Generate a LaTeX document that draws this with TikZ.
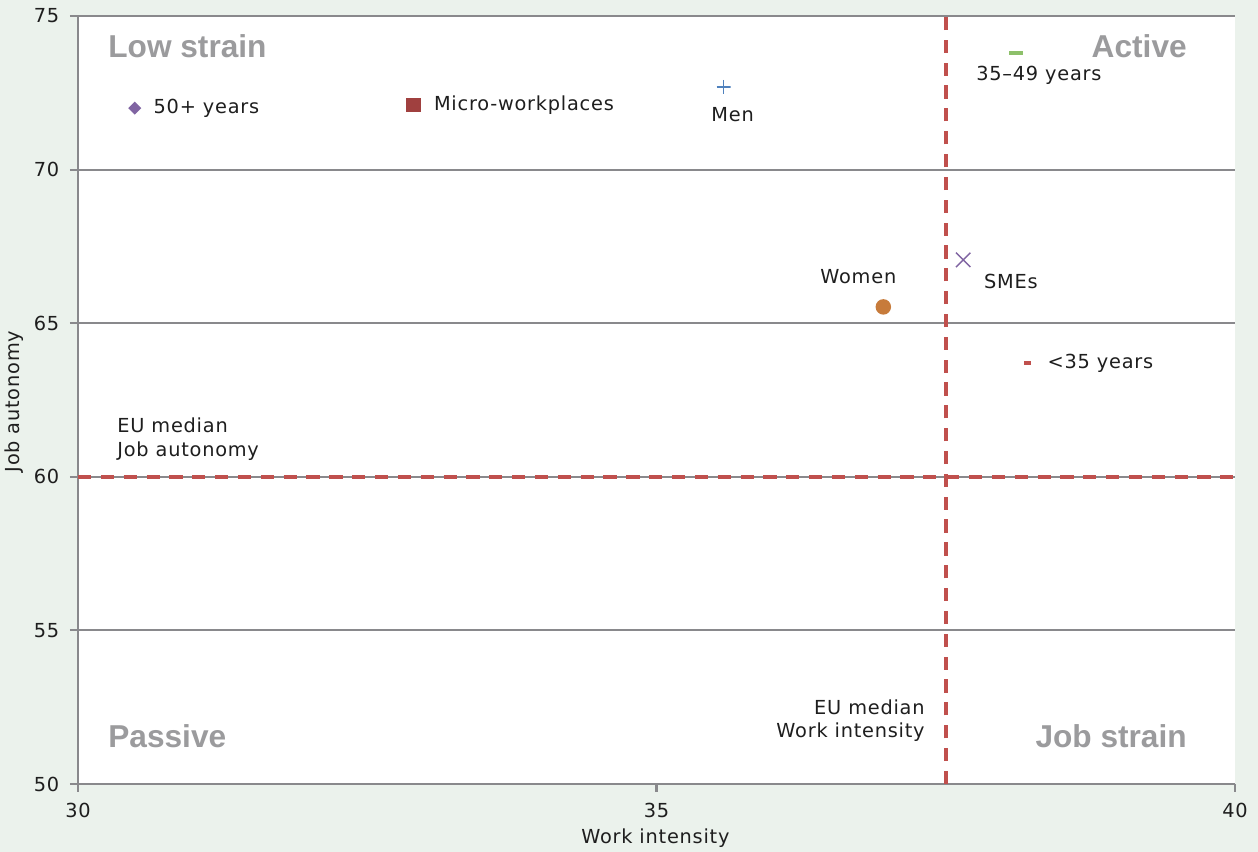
\documentclass[tikz,border=0pt]{standalone}
\usepackage{fontspec}
\setmainfont[LetterSpace=4]{DejaVu Sans}
\newfontfamily\quadfont{Liberation Sans}
\usetikzlibrary{positioning,shapes.geometric,shapes.misc}

\definecolor{bgcol}{RGB}{235,242,236}
\definecolor{gridcol}{RGB}{137,137,140}
\definecolor{medcol}{RGB}{192,80,77}
\definecolor{quadcol}{RGB}{155,155,157}
\definecolor{txtcol}{RGB}{30,30,30}
\definecolor{purp}{RGB}{128,100,162}
\definecolor{micred}{RGB}{160,64,63}
\definecolor{menblue}{RGB}{79,129,189}
\definecolor{grn}{RGB}{141,192,106}
\definecolor{orng}{RGB}{199,123,59}

\begin{document}
\begin{tikzpicture}[x=2.314cm,y=0.6144cm]
\useasboundingbox[fill=bgcol] (29.3258,47.7865) rectangle (40.1988,75.5208);

\tikzstyle{every node}+=[inner sep=0pt]
\tikzstyle{grid}=[draw=gridcol,line width=1.2pt]
\tikzstyle{median}=[draw=medcol,line width=2pt,dash pattern=on 7.5pt off 5.5pt]
\tikzstyle{lbl}=[font=\fontsize{11}{13.6}\selectfont,text=txtcol]
\tikzstyle{quad}=[font=\quadfont\bfseries\fontsize{18}{20}\selectfont,text=quadcol]
\tikzstyle{plusmk}=[minimum size=0.28cm,path picture={
  \draw[menblue,line width=0.9pt]
    (path picture bounding box.north) -- (path picture bounding box.south)
    (path picture bounding box.west) -- (path picture bounding box.east);}]

% plot area and grid
\fill[white] (30,50) rectangle (40,75);
\foreach \y in {55,60,...,75}
  \draw[grid] (29.93,\y) -- (40,\y);
\draw[grid] (29.93,50) -- (40,50);
\draw[grid] (30,49.74) -- (30,75);
\foreach \x in {35,40}
  \draw[grid] (\x,49.74) -- (\x,50);

% axis labels
\foreach \y in {50,55,...,75}
  \node[lbl,anchor=east] (ty\y) at (29.84,\y) {\y};
\foreach \x in {30,35,40}
  \node[lbl] (tx\x) at (\x,49.15) {\x};
\node[lbl] (xlab) at (34.99,48.24) {Work intensity};
\node[lbl,rotate=90] (ylab) at (29.447,62.45) {Job autonomy};

% EU medians
\draw[median] (30,60) -- (40,60);
\draw[median] (37.5,50) -- (37.5,75);
\node[lbl,anchor=west,align=left] (medy) at (30.337,61.22) {EU median\\Job autonomy};
\node[lbl,anchor=east,align=right] (medx) at (37.32,52.06) {EU median\\Work intensity};

% quadrants
\node[quad,anchor=west] (qlow) at (30.259,74.02) {Low strain};
\node[quad,anchor=east] (qact) at (39.585,74.02) {Active};
\node[quad,anchor=west] (qpas) at (30.259,51.56) {Passive};
\node[quad,anchor=east] (qjob) at (39.585,51.56) {Job strain};

% groups
\node[diamond,fill=purp,minimum size=0.27cm] (p50) at (30.49,72.0) {};
\node[rectangle,fill=micred,minimum size=0.29cm] (pmic) at (32.90,72.10) {};
\node[plusmk] (pmen) at (35.58,72.69) {};
\node[rectangle,fill=grn,minimum width=0.28cm,minimum height=0.09cm] (p3549) at (38.11,73.80) {};
\node[cross out,draw=purp,line width=0.8pt,minimum size=0.26cm] (psme) at (37.65,67.06) {};
\node[circle,fill=orng,minimum size=0.31cm] (pwom) at (36.96,65.53) {};
\node[rectangle,fill=medcol,minimum width=0.14cm,minimum height=0.08cm] (py35) at (38.21,63.70) {};

\node[lbl,right=0.23cm of p50] (l50) {50+ years};
\node[lbl,right=0.25cm of pmic] (lmic) {Micro-workplaces};
\node[lbl,below=0.26cm of pmen,xshift=0.18cm] (lmen) {Men};
\node[lbl,below=0.21cm of p3549,xshift=0.45cm] (l3549) {35–49 years};
\node[lbl,below right=0.14cm and 0.27cm of psme] (lsme) {SMEs};
\node[lbl,above=0.3cm of pwom,xshift=-0.5cm] (lwom) {Women};
\node[lbl,right=0.31cm of py35] (ly35) {<35 years};
\end{tikzpicture}
\end{document}
